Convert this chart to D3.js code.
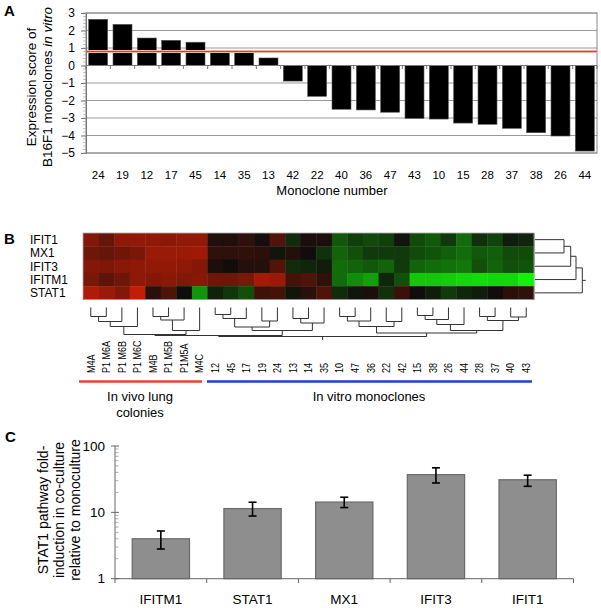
<!DOCTYPE html>
<html><head><meta charset="utf-8">
<script src="https://cdn.jsdelivr.net/npm/d3@7"></script>
<style>body{margin:0;background:#fff} text{font-family:"Liberation Sans",Arial,Helvetica,sans-serif;fill:#000}</style>
</head><body>
<svg id="fig" width="601" height="608"></svg>
<script>
// ---------- Panel A data ----------
const monoclones = ["24","19","12","17","45","14","35","13","42","22","40","36","47","43","10","15","28","37","38","26","44"];
const expressionScore = [2.64,2.35,1.57,1.44,1.33,0.79,0.79,0.43,-0.89,-1.76,-2.5,-2.54,-2.67,-3.02,-3.06,-3.29,-3.36,-3.59,-3.84,-4.03,-4.89];
const thresholdScore = 0.8;
const yTicksA = [3,2,1,0,-1,-2,-3,-4,-5];

// ---------- Panel B data ----------
const hmGenes = ["IFIT1","MX1","IFIT3","IFITM1","STAT1"];
const hmSamples = ["M4A","P1 M6A","P1 M6B","P1 M6C","M4B","P1 M5B","P1M5A","M4C","12","45","17","19","24","13","14","35","10","47","36","22","42","15","38","26","44","28","37","40","43"];
const inVivoCount = 8;
const exprIFIT1  = [0.63,0.46,0.69,0.71,0.71,0.66,0.71,0.71, 0.09,0.09,0.17,0.03,0.37,-0.13,0.06,0.06, -0.33,-0.22,-0.27,-0.22,-0.04,-0.27,-0.33,-0.2,-0.42,-0.16,-0.24,-0.07,-0.11];
const exprMX1    = [0.51,0.46,0.51,0.57,0.74,0.74,0.74,0.77, 0.17,0.17,0.17,0.14,-0.04,0.11,0.0,-0.16, -0.38,-0.29,-0.2,-0.2,-0.2,-0.27,-0.31,-0.36,-0.42,-0.33,-0.36,-0.27,-0.27];
const exprIFIT3  = [0.63,0.6,0.66,0.69,0.71,0.71,0.69,0.63, 0.06,0.0,0.11,0.11,0.37,-0.13,-0.11,-0.07, -0.42,-0.38,-0.33,-0.38,-0.2,-0.38,-0.42,-0.44,-0.47,-0.29,-0.38,-0.29,-0.31];
const exprIFITM1 = [0.57,0.43,0.51,0.69,0.63,0.66,0.63,0.66, 0.51,0.51,0.57,0.8,0.74,0.29,0.34,0.17, -0.42,-0.56,-0.64,-0.11,-0.29,-0.82,-0.82,-0.84,-0.89,-0.91,-0.89,-0.89,-1.0];
const exprSTAT1  = [0.86,0.74,0.63,0.97,0.14,0.34,0.0,-0.6, -0.09,-0.18,-0.29,0.26,0.29,-0.04,0.14,0.34, -0.13,-0.04,0.06,-0.16,0.23,0.0,-0.07,-0.2,-0.11,-0.07,0.0,0.14,0.17];
// column dendrogram: [left, right, height]; numbers are sample indices
const treeInVivo = [[[[0,1,9],2,14],3,19],[[[4,5,9],6,12.5],7,23],27];
const treeVitroA = [[[[8,9,7],10,11],[11,12,13.5],19.5],[[13,14,11],15,15.5],23];
const treeVitroB = [[[[16,17,9],18,13.5],[19,20,14],19],[[[[21,22,8],23,12],24,17],[[25,26,9],[27,28,9.5],13],23],25.5];
const colTree = [[treeInVivo, treeVitroA, 28], treeVitroB, 29];
// row dendrogram
const rowTree = [[[[0,1,29],2,35.7],3,41],4,47.3];
const groupLabels = [["In vivo lung","colonies"],["In vitro monoclones"]];

// ---------- Panel C data ----------
const genesC = ["IFITM1","STAT1","MX1","IFIT3","IFIT1"];
const foldInduction = [4.0,11.4,14.3,37,31];
const foldLow  = [2.8,8.8,11.8,27.7,24.7];
const foldHigh = [5.24,14.2,16.9,46.9,36.3];
const yTicksC = [1,10,100];

const svg = d3.select("#fig");
const axisGray = "#666";

// ================= Panel A =================
(function(){
  const x = d3.scaleBand().domain(monoclones).range([86,597]).paddingInner(0.22).paddingOuter(0.11);
  const y = d3.scaleLinear().domain([-5,3]).range([153,13]);
  const g = svg.append("g");
  g.selectAll(".grid").data(yTicksA).join("line")
    .attr("x1",86).attr("x2",597).attr("y1",d=>y(d)).attr("y2",d=>y(d))
    .attr("stroke","#999").attr("stroke-width",1);
  g.append("rect").attr("x",86).attr("y",y(3)).attr("width",511).attr("height",y(-5)-y(3))
    .attr("fill","none").attr("stroke","#888").attr("stroke-width",1);
  g.selectAll(".bar").data(monoclones).join("rect")
    .attr("x",d=>x(d)).attr("width",x.bandwidth())
    .attr("y",(d,i)=>y(Math.max(0,expressionScore[i])))
    .attr("height",(d,i)=>Math.abs(y(expressionScore[i])-y(0)))
    .attr("fill","#000").attr("stroke","#555").attr("stroke-width",0.6);
  g.append("line").attr("x1",86).attr("x2",597).attr("y1",y(thresholdScore)).attr("y2",y(thresholdScore))
    .attr("stroke","#f8dcd5").attr("stroke-width",3.2);
  g.append("line").attr("x1",86).attr("x2",597).attr("y1",y(thresholdScore)).attr("y2",y(thresholdScore))
    .attr("stroke","#dd3b25").attr("stroke-width",1.5);
  g.append("line").attr("x1",86).attr("x2",597).attr("y1",y(0)).attr("y2",y(0)).attr("stroke","#777");
  const step = x.step();
  g.selectAll(".xt").data(d3.range(monoclones.length+1)).join("line")
    .attr("x1",i=>86+i*step).attr("x2",i=>86+i*step).attr("y1",y(0)).attr("y2",y(0)+3.5)
    .attr("stroke","#777");
  const yAxis = d3.axisLeft(y).tickValues(yTicksA).tickSize(5).tickFormat(d3.format("d"));
  const ya = g.append("g").attr("transform","translate(86,0)").call(yAxis);
  ya.select(".domain").attr("stroke","#777");
  ya.selectAll(".tick line").attr("stroke","#777");
  ya.selectAll(".tick text").attr("font-size",12).attr("x",-11).attr("font-family","Liberation Sans, Arial, sans-serif");
  g.selectAll(".minor").data(d3.range(-5,3.01,0.2)).join("line")
    .attr("x1",83).attr("x2",86).attr("y1",d=>y(d)).attr("y2",d=>y(d)).attr("stroke","#999").attr("stroke-width",0.6);
  g.selectAll(".xl").data(monoclones).join("text")
    .attr("x",d=>x(d)+x.bandwidth()/2).attr("y",178.5).attr("text-anchor","middle")
    .attr("font-size",11.5).text(d=>d);
  g.append("text").attr("x",332).attr("y",195).attr("text-anchor","middle").attr("font-size",13).text("Monoclone number");
  const yt = g.append("text").attr("transform","translate(0,87) rotate(-90)").attr("text-anchor","middle").attr("font-size",13.5);
  yt.append("tspan").attr("x",0).attr("y",36).text("Expression score of");
  const t2 = yt.append("tspan").attr("x",0).attr("y",52);
  t2.append("tspan").text("B16F1 monoclones ");
  t2.append("tspan").attr("font-style","italic").text("in vitro");
  svg.append("text").attr("x",4).attr("y",16).attr("font-size",15).attr("font-weight","bold").text("A");
})();

// ================= Panel B =================
(function(){
  const rows = [exprIFIT1,exprMX1,exprIFIT3,exprIFITM1,exprSTAT1];
  const x = d3.scaleBand().domain(d3.range(hmSamples.length)).range([83,534]);
  const y = d3.scaleBand().domain(d3.range(hmGenes.length)).range([233,299.5]);
  const color = d3.scaleLinear().domain([-1,0,1]).range(["#14f00a","#100d0c","#c81e05"]).clamp(true);
  const g = svg.append("g");
  const cells = [];
  rows.forEach((r,ri)=>r.forEach((v,ci)=>cells.push({ri,ci,v})));
  g.selectAll(".cell").data(cells).join("rect")
    .attr("x",d=>x(d.ci)).attr("y",d=>y(d.ri)).attr("width",x.bandwidth()+0.4).attr("height",y.bandwidth()+0.4)
    .attr("fill",d=>color(d.v));
  g.append("rect").attr("x",83).attr("y",233).attr("width",451).attr("height",66.5)
    .attr("fill","none").attr("stroke","#aaa").attr("stroke-width",0.8);
  g.selectAll(".gl").data(hmGenes).join("text")
    .attr("x",30).attr("y",(d,i)=>y(i)+y.bandwidth()/2+4.3).attr("font-size",12).text(d=>d);
  svg.append("text").attr("x",4).attr("y",244).attr("font-size",15).attr("font-weight","bold").text("B");

  const dy = d3.scaleLinear().domain([0,29]).range([307.5,336.5]);
  const lines = [];
  function lay(node){
    if(typeof node === "number") return {x:x(node)+x.bandwidth()/2, h:0};
    const a = lay(node[0]), b = lay(node[1]), h = node[2];
    lines.push([a.x,dy(a.h),a.x,dy(h)]);
    lines.push([b.x,dy(b.h),b.x,dy(h)]);
    lines.push([a.x,dy(h),b.x,dy(h)]);
    return {x:(a.x+b.x)/2, h};
  }
  const root = lay(colTree);
  lines.push([root.x,dy(root.h),root.x,dy(root.h)+3.5]);
  const dx = d3.scaleLinear().domain([0,47.3]).range([535,582.3]);
  function layR(node){
    if(typeof node === "number") return {y:y(node)+y.bandwidth()/2, h:0};
    const a = layR(node[0]), b = layR(node[1]), h = node[2];
    lines.push([dx(a.h),a.y,dx(h),a.y]);
    lines.push([dx(b.h),b.y,dx(h),b.y]);
    lines.push([dx(h),a.y,dx(h),b.y]);
    return {y:(a.y+b.y)/2, h};
  }
  const rr = layR(rowTree);
  lines.push([dx(rr.h),rr.y,dx(rr.h)+3.5,rr.y]);
  g.selectAll(".dl").data(lines).join("line")
    .attr("x1",d=>d[0]).attr("y1",d=>d[1]).attr("x2",d=>d[2]).attr("y2",d=>d[3])
    .attr("stroke","#333").attr("stroke-width",1);

  g.selectAll(".sl").data(hmSamples).join("text")
    .attr("transform",(d,i)=>`translate(${x(i)+x.bandwidth()/2+3.8},373) rotate(-90) scale(0.86,1)`)
    .attr("font-size",10.5).text(d=>d);
  g.append("line").attr("x1",79).attr("x2",202).attr("y1",381.5).attr("y2",381.5).attr("stroke","#e8432b").attr("stroke-width",2.6);
  g.append("line").attr("x1",207).attr("x2",532).attr("y1",381.5).attr("y2",381.5).attr("stroke","#1f3fd8").attr("stroke-width",2.6);
  const gl1 = g.append("text").attr("text-anchor","middle").attr("font-size",13);
  groupLabels[0].forEach((t,i)=>gl1.append("tspan").attr("x",140).attr("y",401+i*15.5).text(t));
  g.append("text").attr("text-anchor","middle").attr("font-size",13).attr("x",369).attr("y",401).text(groupLabels[1][0]);
})();

// ================= Panel C =================
(function(){
  const x = d3.scaleBand().domain(genesC).range([115,573.5]).paddingInner(0.375).paddingOuter(0.1875);
  const y = d3.scaleLog().domain([1,100]).range([578.7,446]);
  const g = svg.append("g");
  g.selectAll(".bar").data(genesC).join("rect")
    .attr("x",d=>x(d)).attr("width",x.bandwidth())
    .attr("y",(d,i)=>y(foldInduction[i])).attr("height",(d,i)=>y(1)-y(foldInduction[i]))
    .attr("fill","#8e8e8e").attr("stroke","#6a6a6a").attr("stroke-width",1.2);
  genesC.forEach((d,i)=>{
    const cx = x(d)+x.bandwidth()/2;
    g.append("line").attr("x1",cx).attr("x2",cx).attr("y1",y(foldLow[i])).attr("y2",y(foldHigh[i])).attr("stroke","#000").attr("stroke-width",1.6);
    [foldLow[i],foldHigh[i]].forEach(v=>g.append("line").attr("x1",cx-4).attr("x2",cx+4).attr("y1",y(v)).attr("y2",y(v)).attr("stroke","#000").attr("stroke-width",1.6));
  });
  g.append("line").attr("x1",115).attr("x2",115).attr("y1",446).attr("y2",578.7).attr("stroke",axisGray);
  g.selectAll(".yt").data(yTicksC).join("line")
    .attr("x1",111).attr("x2",119).attr("y1",d=>y(d)).attr("y2",d=>y(d)).attr("stroke",axisGray);
  const minors = [];
  [1,10].forEach(b=>d3.range(2,10).forEach(m=>minors.push(b*m)));
  g.selectAll(".ym").data(minors).join("line")
    .attr("x1",115).attr("x2",118.5).attr("y1",d=>y(d)).attr("y2",d=>y(d)).attr("stroke","#999").attr("stroke-width",0.8);
  g.selectAll(".ytl").data(yTicksC).join("text")
    .attr("x",105).attr("y",d=>y(d)+4.6).attr("text-anchor","end").attr("font-size",13.5).text(d=>d);
  g.append("line").attr("x1",115).attr("x2",573.5).attr("y1",578.7).attr("y2",578.7).attr("stroke",axisGray);
  g.selectAll(".xt").data(d3.range(genesC.length+1)).join("line")
    .attr("x1",i=>115+i*x.step()).attr("x2",i=>115+i*x.step()).attr("y1",578.7).attr("y2",583)
    .attr("stroke",axisGray);
  g.selectAll(".xl").data(genesC).join("text")
    .attr("x",d=>x(d)+x.bandwidth()/2).attr("y",604).attr("text-anchor","middle").attr("font-size",13.5).text(d=>d);
  const yt = g.append("text").attr("transform","translate(0,510) rotate(-90)").attr("text-anchor","middle").attr("font-size",14);
  ["STAT1 pathway fold-","induction in co-culture","relative to monoculture"].forEach((t,i)=>
    yt.append("tspan").attr("x",0).attr("y",47.5+i*16).text(t));
  svg.append("text").attr("x",5).attr("y",442).attr("font-size",15).attr("font-weight","bold").text("C");
})();
</script>
</body></html>
